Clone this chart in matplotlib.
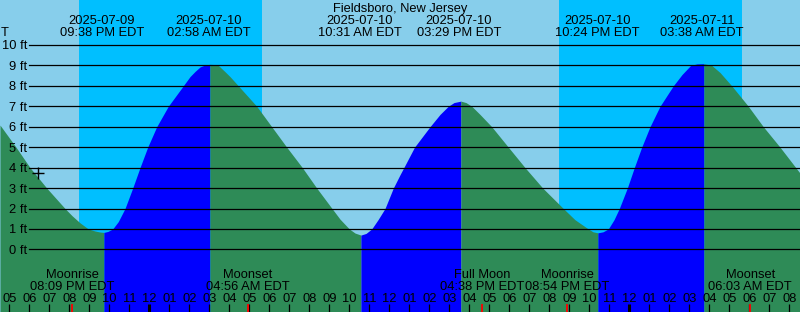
import matplotlib
matplotlib.use("Agg")
import matplotlib.pyplot as plt
import matplotlib.transforms as mtransforms

plt.rcParams['font.family'] = ['Liberation Sans', 'DejaVu Sans']

# ---------------- data (hours since 2025-07-09 00:00 EDT) ----------------
tide_hours = [16.535, 17.335, 18.035, 18.87, 19.785, 20.135, 20.535, 20.95, 21.285, 21.535, 21.73,
              21.935, 22.17, 22.45, 22.785, 23.17, 23.535, 23.92, 24.37, 24.95, 25.70, 26.035,
              26.285, 26.535, 26.785, 27.03,
              27.235, 27.45, 27.785, 28.035, 28.45, 29.37, 30.12, 30.87, 31.65, 32.37, 33.135,
              33.535, 34.0, 34.285, 34.58,
              34.835, 35.12, 35.435, 35.785, 36.2, 36.535, 36.725, 37.26, 38.035, 38.535, 38.95,
              39.235, 39.58,
              39.835, 40.12, 40.535, 41.12, 41.95, 42.785, 43.67, 44.70, 45.285, 45.95, 46.185,
              46.43,
              46.685, 46.95, 47.235, 47.5, 47.9, 48.25, 48.62, 49.035, 49.535, 50.2, 50.635,
              51.07, 51.385, 51.73,
              51.885, 52.12, 52.535, 53.12, 53.95, 54.70, 55.535, 56.535]
tide_feet = [6.08, 5.0, 4.0, 3.0, 2.0, 1.65, 1.3, 1.0, 0.9, 0.85, 0.83,
             0.88, 1.0, 1.36, 2.0, 3.0, 4.0, 5.0, 6.0, 7.0, 8.0, 8.45,
             8.7, 8.92, 9.02, 9.05,
             9.04, 9.0, 8.69, 8.45, 8.0, 7.0, 6.0, 5.0, 4.0, 3.0, 2.0,
             1.48, 1.0, 0.8, 0.70,
             0.78, 1.0, 1.45, 2.0, 3.0, 3.65, 4.0, 5.0, 6.0, 6.6, 7.0,
             7.18, 7.25,
             7.18, 7.0, 6.6, 6.0, 5.0, 4.0, 3.0, 2.0, 1.45, 1.0, 0.86,
             0.81,
             0.86, 1.0, 1.45, 2.0, 3.0, 4.0, 5.0, 6.0, 7.0, 8.0, 8.55,
             9.0, 9.07, 9.08,
             9.05, 9.0, 8.65, 8.0, 7.0, 6.0, 5.0, 3.73]
# turning points: low, high, low, high, low, high
turn_hours = [21.73, 27.03, 34.58, 39.58, 46.43, 51.73]

extreme_hours = [21.633, 26.967, 34.517, 39.483, 46.4, 51.633]
extreme_dates = ["2025-07-09", "2025-07-10", "2025-07-10", "2025-07-10", "2025-07-10", "2025-07-11"]
extreme_times = ["09:38 PM EDT", "02:58 AM EDT", "10:31 AM EDT", "03:29 PM EDT", "10:24 PM EDT", "03:38 AM EDT"]

night_start = [20.485, 44.485]
night_end = [29.635, 53.635]

moon_hours = [20.15, 28.933, 40.633, 44.9, 54.05]
moon_names = ["Moonrise", "Moonset", "Full Moon", "Moonrise", "Moonset"]
moon_times = ["08:09 PM EDT", "04:56 AM EDT", "04:38 PM EDT", "08:54 PM EDT", "06:03 AM EDT"]

now_hour = 18.42
now_feet = 3.72

y_levels = list(range(0, 11))
hour_ticks = list(range(17, 57))
title = "Fieldsboro, New Jersey"

# ---------------- figure ----------------
W, H = 800, 312
fig = plt.figure(figsize=(W / 100, H / 100), dpi=100)
ax = fig.add_axes([0, 0, 1, 1])
ax.set_axis_off()
ax.set_xlim(16.535, 56.535)
ax.set_ylim(-3.061, 12.196)

SKY = '#87CEEB'
NIGHT = '#00BFFF'
EBB = '#2E8B57'
FLOOD = '#0000FF'
fig.patch.set_facecolor(SKY)
ax.set_facecolor(SKY)

for s, e in zip(night_start, night_end):
    ax.axvspan(s, e, color=NIGHT, lw=0, zorder=1)

# tide fill segments (ebb = falling, flood = rising)
bounds = [tide_hours[0]] + turn_hours + [tide_hours[-1]]
bottom = ax.get_ylim()[0]
for k in range(len(bounds) - 1):
    a, b = bounds[k], bounds[k + 1]
    xs = [t for t in tide_hours if a <= t <= b]
    ys = [v for t, v in zip(tide_hours, tide_feet) if a <= t <= b]
    col = EBB if k % 2 == 0 else FLOOD
    ax.fill_between(xs, ys, bottom, color=col, lw=0, zorder=2)

# grid lines
for lvl in y_levels:
    ax.axhline(lvl, xmin=29.3 / W, xmax=1, color='black', lw=0.9, zorder=3)

FS = 9.3
blend_ay = mtransforms.blended_transform_factory(ax.transAxes, ax.transData)
ylab_tr = mtransforms.offset_copy(blend_ay, fig=fig, x=0, y=-4.5, units='dots')
for lvl in y_levels:
    ax.text(27 / W, lvl, f"{lvl} ft", transform=ylab_tr, ha='right', va='baseline',
            fontsize=FS, zorder=5)


def yfrac(py):
    return 1 - py / H


blend_xa = mtransforms.blended_transform_factory(ax.transData, ax.transAxes)

ax.text(0.5, yfrac(11.7), title, transform=ax.transAxes, ha='center', va='baseline',
        fontsize=FS, zorder=5)
ax.text(1 / W, yfrac(36), "T", transform=ax.transAxes, ha='left', va='baseline',
        fontsize=FS, zorder=5)
for t, d, tm in zip(extreme_hours, extreme_dates, extreme_times):
    ax.text(t, yfrac(24), d, transform=blend_xa, ha='center', va='baseline', fontsize=FS, zorder=5)
    ax.text(t, yfrac(36), tm, transform=blend_xa, ha='center', va='baseline', fontsize=FS, zorder=5)

for t, n, tm in zip(moon_hours, moon_names, moon_times):
    ax.text(t, yfrac(278.3), n, transform=blend_xa, ha='center', va='baseline', fontsize=FS, zorder=5)
    ax.text(t, yfrac(290), tm, transform=blend_xa, ha='center', va='baseline', fontsize=FS, zorder=5)

# hour ticks and labels
for h in hour_ticks:
    hh = h % 12
    if hh == 0:
        hh = 12
    ax.text(h, yfrac(301.7), f"{hh:02d}", transform=blend_xa, ha='center', va='baseline',
            fontsize=FS, zorder=5)
    lw = 2.2 if h % 24 == 0 else 0.9
    ax.vlines(h, 0, 8 / H, transform=blend_xa, color='black', lw=lw, zorder=4)
ax.vlines(moon_hours, 0, 8 / H, transform=blend_xa, color='red', lw=1.3, zorder=4)

# current time marker
ax.plot([now_hour], [now_feet], marker='+', color='black', ms=8, mew=1.0, zorder=6)

fig.savefig("out.png", dpi=100, facecolor=SKY)
